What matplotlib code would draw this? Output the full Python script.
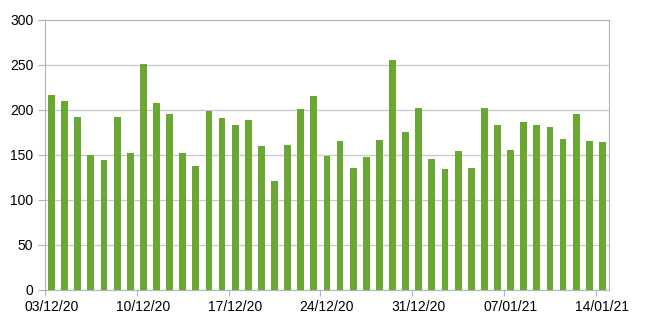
import numpy as np
import matplotlib
matplotlib.use("Agg")
import matplotlib.pyplot as plt

# valores diarios 03/12/20 - 14/01/21
valores = [217, 210, 192, 150, 144, 192, 152, 251, 208, 195,
           152, 138, 199, 191, 183, 189, 160, 121, 161, 201,
           216, 149, 165, 135, 148, 167, 256, 175, 202, 145,
           134, 154, 136, 202, 183, 156, 187, 183, 181, 168,
           196, 165, 164]
etiquetas = ["03/12/20", "10/12/20", "17/12/20", "24/12/20",
             "31/12/20", "07/01/21", "14/01/21"]

plt.rcParams['font.family'] = ['Liberation Sans', 'DejaVu Sans']

fig = plt.figure(figsize=(6.49, 3.25), dpi=100)
ax = fig.add_axes([0.0693, 0.1077, 0.869, 0.8308])

x = np.arange(len(valores))
ax.bar(x, valores, width=0.52, color="#6aa733", zorder=3)

ax.set_ylim(0, 300)
ax.set_yticks(range(0, 301, 50))
ax.set_xlim(-0.5, len(valores) - 0.5)
# marcas entre categorias, etiquetas centradas en la barra
pos = np.arange(0, len(valores), 7)
ax.set_xticks(pos - 0.5)
ax.set_xticklabels([])
ax.set_xticks(pos, minor=True)
ax.set_xticklabels(etiquetas, minor=True)
ax.tick_params(axis="x", which="minor", length=0)

ax.grid(axis="y", color="#c8c8c8", linewidth=0.9, zorder=0)
for s in ax.spines.values():
    s.set_color("#b3b3b3")
ax.tick_params(which="both", colors="#b3b3b3", labelcolor="black", labelsize=10, direction="out")
ax.tick_params(axis="y", length=5)
ax.tick_params(axis="x", which="major", length=4)
ax.tick_params(axis="x", which="minor", pad=7)

fig.savefig("out.png")
